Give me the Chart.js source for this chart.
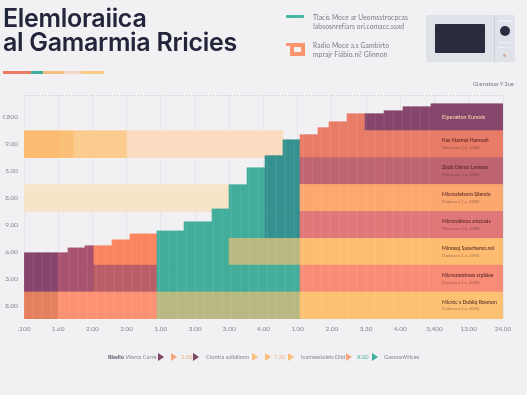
<!DOCTYPE html>
<html>
<head>
<meta charset="utf-8">
<script src="https://cdn.jsdelivr.net/npm/chart.js@4"></script>
<style>
  html, body { margin: 0; padding: 0; background: #f1f1f3; }
  #page { position: relative; width: 527px; height: 395px; overflow: hidden; font-family: Lato, sans-serif; }
  #chart { position: absolute; left: 0; top: 0; }
  .abs { position: absolute; white-space: nowrap; }
  .title { left: 3px; font: 600 25px/1 Inter, sans-serif; color: #23253a; letter-spacing: -0.3px; }
  .accent { top: 71px; height: 3px; }
  .note { left: 313px; font-size: 6.7px; color: #7a7c88; letter-spacing: 0.1px; }
  .legend { top: 353px; font-size: 5.7px; line-height: 8px; color: #85868f; }
  .tri { position: absolute; top: 353px; width: 0; height: 0; border-left: 6.5px solid; border-top: 4px solid transparent; border-bottom: 4px solid transparent; }
</style>
</head>
<body>
<div id="page">
  <canvas id="chart" width="527" height="395"></canvas>

  <div class="abs title" style="top:6px">Elemloraiica</div>
  <div class="abs title" style="top:30px">al Gamarmia Rricies</div>
  <div class="abs accent" style="left:3px;width:28px;background:#ee7b62"></div>
  <div class="abs accent" style="left:31px;width:12px;background:#3fae9e"></div>
  <div class="abs accent" style="left:43px;width:21px;background:#f6bd80"></div>
  <div class="abs accent" style="left:64px;width:17px;background:#f3d6c4"></div>
  <div class="abs accent" style="left:81px;width:23px;background:#fbcb80"></div>

  <div class="abs" style="left:286px;top:15px;width:18px;height:3px;background:#45b8a5;border-radius:1px"></div>
  <div class="abs note" style="top:13px">Tlacis Moce ar Ueomsstrocpcas</div>
  <div class="abs note" style="top:22px">Iabsosnrefiars ori.comacc.ssxd</div>
  <div class="abs" style="left:286px;top:43px;width:19px;height:3px;background:#f9966f"></div>
  <div class="abs" style="left:290px;top:46px;width:7px;height:5px;border:4px solid #f9966f;border-top-width:1px"></div>
  <div class="abs note" style="top:41px">Radio Moce a.s Gambirto</div>
  <div class="abs note" style="top:50px">mprajr Fiábio.ni! Glinnon</div>

  <div class="abs" style="left:426px;top:15px;width:89px;height:47px;background:#dfe2e8;border-radius:2px"></div>
  <div class="abs" style="left:494px;top:15px;width:1px;height:47px;background:#cdd1d9"></div>
  <div class="abs" style="left:435px;top:24px;width:50px;height:29px;background:#2a2b3f;border-radius:1px"></div>
  <div class="abs" style="left:500px;top:26px;width:10px;height:10px;background:#2b2d40;border-radius:50%"></div>
  <div class="abs" style="left:498px;top:20px;width:14px;height:2px;background:#eceef1"></div>
  <div class="abs" style="left:498px;top:42px;width:14px;height:1px;background:#eceef1"></div>
  <div class="abs" style="left:498px;top:47px;width:12px;height:1px;background:#f0eff0"></div>
  <div class="abs" style="left:503px;top:54px;width:3px;height:3px;background:#d9a99b;border-radius:50%"></div>

  <div class="abs" style="left:473px;top:80px;font-size:5.6px;color:#777984">Glamatoss Y 3ue</div>

  <div class="abs legend" style="left:108px"><b style="color:#55566a">Rledio</b> Worcs Carre</div>
  <div class="tri" style="left:158px;color:#7d4566"></div>
  <div class="tri" style="left:171px;color:#f5a77a"></div>
  <div class="abs legend" style="left:181px;color:#efb08c">3.00</div>
  <div class="tri" style="left:193px;color:#7d4566"></div>
  <div class="abs legend" style="left:206px">Ciontra salbilimm</div>
  <div class="tri" style="left:252px;color:#f9bf78"></div>
  <div class="tri" style="left:265px;color:#f9bf78"></div>
  <div class="abs legend" style="left:274px;color:#efb08c">7.30</div>
  <div class="tri" style="left:288px;color:#f9bf78"></div>
  <div class="abs legend" style="left:301px">Ivamessioleis Dild</div>
  <div class="tri" style="left:346px;color:#f5a77a"></div>
  <div class="abs legend" style="left:357px;color:#45ad9c">X.00</div>
  <div class="tri" style="left:372px;color:#3fae9e"></div>
  <div class="abs legend" style="left:384px">GasmanWices</div>
</div>

<script>
// axis labels, bottom row first
const yLabels = ['8.00', '3.00', '6.00', '9.00', '8.00', '5.00', '9.00', 'C800'];
const xLabels = ['.100', '1.60', '2.00', '2.00', '1.00', '3.00', '3.00', '4.00', '1.00', '2.00', '3.30', '4.00', '3,400', '13.00', '24.00'];

// labels inside the right end of each row, bottom row first
const rowNames = ['Micróc s Dubliq Rosmon', 'Microzomhoes srpliáse', 'Minosoj Sasarhemo.nol', 'Microsálmos cmzcaás', 'Microstelsoro Silemio', 'Zodo Dismo Lamosn', 'Kas Marmsi Hamoah', 'Eiperation Eumois'];
const rowSubs = ['Dadzcara 5.x. 3080', 'Dadzcara 1.x. 2080', 'Dadzcara 1.x. 1990', 'Mdstcaro 1.x. 2080', 'Dadzcara 1.x. 2080', 'Mdstcaro 1.x. 2080', 'Mdstcaro 1.x. 2080', ''];

// top edge of the stack
const skylineEnds = [1.29, 1.78, 2.05, 2.57, 3.10, 3.89, 4.68, 5.50, 6.00, 6.52, 7.05, 7.57, 8.07, 8.60, 8.92, 9.44, 10.53, 11.08, 11.90, 14];
const skylineTops = [2.46, 2.64, 2.72, 2.72, 2.94, 3.16, 3.27, 3.61, 4.09, 4.99, 5.62, 6.07, 6.66, 6.85, 7.11, 7.33, 7.63, 7.74, 7.89, 8.00];

// colour zones along x
const zoneEnds = [1.0, 2.05, 3.89, 6.0, 7.05, 8.07, 9.97, 14];
const plum = '#87466c', mauve = '#a8546f', salmon = '#fb8560', teal = '#44ad9c', darkTeal = '#36918f', olive = '#b8b884', coral = '#e87c68';
const row1Colors = ['#e48060', '#fc9274', '#fc9274', olive, olive, olive, '#fdc173', '#fdc173'];
const row2Colors = [plum, mauve, '#bb6068', teal, teal, teal, '#f98c78', '#f98c78'];
const row3Colors = [plum, mauve, salmon, teal, olive, olive, '#fdbd70', '#fdbd70'];
const row4Colors = [plum, mauve, salmon, teal, teal, darkTeal, '#e0787a', '#e0787a'];
const row5Colors = [plum, mauve, salmon, teal, teal, darkTeal, '#fba86f', '#fba86f'];
const row6Colors = [plum, mauve, salmon, teal, teal, darkTeal, '#bf6672', '#bf6672'];
const row7Colors = [plum, mauve, salmon, teal, teal, darkTeal, coral, coral];
const row8Colors = [plum, mauve, salmon, teal, teal, darkTeal, coral, plum];
const rowColors = [row1Colors, row2Colors, row3Colors, row4Colors, row5Colors, row6Colors, row7Colors, row8Colors];

// pale bands that sit behind the stack
const peachEnds = [1.05, 1.46, 3.01, 7.57];
const peachColors = ['#fcbd72', '#fbc078', '#fbcb90', '#fbdcc0'];
const creamEnds = [6.0];
const creamColors = ['#f8e4c8'];

const X_MAX = 14;
const Y_MAX = 8.33;
const COLS = 479;
const STRIPE_EVERY = 9;
const STRIPE_STOP = 11.9;
const NOTE_X = 12.22;

function lookup(ends, values, x) {
    for (let i = 0; i < ends.length; i++) {
        if (x <= ends[i]) return values[i];
    }
    return null;
}

function lighten(hex, amount) {
    const n = parseInt(hex.slice(1), 16);
    const mix = c => Math.round(c + (255 - c) * amount);
    return `rgb(${mix(n >> 16)}, ${mix((n >> 8) & 255)}, ${mix(n & 255)})`;
}

const columns = Array.from({ length: COLS }, (_, i) => i);
const colX = i => (i + 0.5) / COLS * X_MAX;
const striped = (color, i) => (i % STRIPE_EVERY === 0 && colX(i) < STRIPE_STOP && color) ? lighten(color, 0.09) : color;

function stackRow(r) {
    return {
        data: columns.map(i => {
            const top = lookup(skylineEnds, skylineTops, colX(i));
            return top > r ? [r, Math.min(r + 1, top)] : null;
        }),
        backgroundColor: columns.map(i => striped(lookup(zoneEnds, rowColors[r], colX(i)), i)),
        grouped: false,
        order: 1,
        barPercentage: 1,
        categoryPercentage: 1
    };
}

function paleBand(r, ends, colors) {
    return {
        data: columns.map(i => lookup(ends, colors, colX(i)) ? [r, r + 1] : null),
        backgroundColor: columns.map(i => lookup(ends, colors, colX(i))),
        grouped: false,
        order: 2,
        barPercentage: 1,
        categoryPercentage: 1
    };
}

const rowNotes = {
    id: 'rowNotes',
    afterDatasetsDraw(chart) {
        const c = chart.ctx;
        const x = chart.scales.x2.getPixelForValue(NOTE_X);
        c.save();
        c.textAlign = 'left';
        c.textBaseline = 'middle';
        rowNames.forEach((name, r) => {
            const y = chart.scales.y.getPixelForValue(r + 0.5);
            if (rowSubs[r]) {
                c.font = '600 5.1px Lato';
                c.fillStyle = 'rgba(75, 30, 30, 0.9)';
                c.fillText(name, x, y - 3.5);
                c.font = '4.4px Lato';
                c.fillStyle = 'rgba(90, 40, 40, 0.5)';
                c.fillText(rowSubs[r], x, y + 3.5);
            } else {
                c.font = '600 5.4px Lato';
                c.fillStyle = '#f5cfa8';
                c.fillText(name, x, y);
            }
        });
        c.restore();
    }
};

new Chart(document.getElementById('chart'), {
    type: 'bar',
    data: {
        labels: columns,
        datasets: [
            ...rowColors.map((_, r) => stackRow(r)),
            paleBand(6, peachEnds, peachColors),
            paleBand(4, creamEnds, creamColors)
        ]
    },
    plugins: [rowNotes],
    options: {
        responsive: false,
        animation: false,
        layout: { padding: { left: 0, right: 24, top: 95, bottom: 60 } },
        plugins: { legend: { display: false }, tooltip: { enabled: false } },
        scales: {
            x: { display: false },
            x2: {
                type: 'linear',
                axis: 'x',
                position: 'bottom',
                offset: false,
                min: 0,
                max: X_MAX,
                afterFit: s => { s.height = 16; },
                grid: { offset: false, color: '#e5e5e9', drawTicks: false },
                border: { display: false },
                ticks: {
                    stepSize: 1,
                    autoSkip: false,
                    maxRotation: 0,
                    padding: 6,
                    color: '#85868f',
                    font: { family: 'Lato', size: 6.5 },
                    callback: (v, i) => xLabels[i]
                }
            },
            y: {
                min: 0,
                max: Y_MAX,
                afterBuildTicks: s => {
                    s.ticks = [...yLabels.map((_, i) => ({ value: i + 0.5 })), { value: Y_MAX }];
                },
                afterFit: s => { s.width = 24; },
                grid: {
                    drawTicks: false,
                    color: ctx => ctx.tick && ctx.tick.value === Y_MAX ? '#c4c5cc' : 'transparent'
                },
                border: { display: false, dash: [1, 2] },
                ticks: {
                    padding: 6,
                    color: '#85868f',
                    font: { family: 'Lato', size: 6.5 },
                    callback: (v, i) => yLabels[i] || ''
                }
            }
        }
    }
});
</script>
</body>
</html>
